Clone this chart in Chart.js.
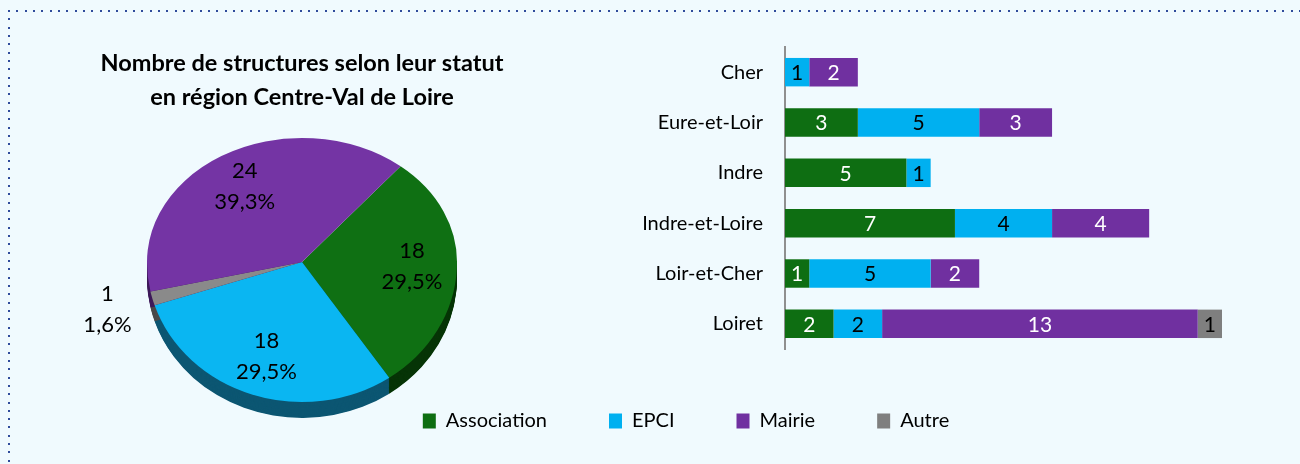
<!DOCTYPE html>
<html><head><meta charset="utf-8">
<script src="https://cdn.jsdelivr.net/npm/chart.js@4/dist/chart.umd.min.js"></script>
<style>
html,body{margin:0;padding:0;}
body{width:1300px;height:464px;background:#f0fafe;position:relative;overflow:hidden;font-family:Lato,sans-serif;}
#dotsTop{position:absolute;left:8px;top:10px;width:1292px;height:2px;background:repeating-linear-gradient(to right,#2f4b9b 0 2px,transparent 2px 8.33px);}
#dotsLeft{position:absolute;left:8px;top:10px;width:2px;height:454px;background:repeating-linear-gradient(to bottom,#2f4b9b 0 2px,transparent 2px 8.33px);}
#barWrap{position:absolute;left:0;top:0;width:1300px;height:464px;}
#pieWrap{position:absolute;left:0;top:0;width:604px;height:464px;}
canvas{display:block;}
</style></head>
<body>
<div id="dotsTop"></div><div id="dotsLeft"></div>
<div id="barWrap"><canvas id="bar" width="1300" height="464"></canvas></div>
<div id="pieWrap"><canvas id="pie" width="604" height="464"></canvas></div>
<script>
// ---- data ----
const departements = ['Cher','Eure-et-Loir','Indre','Indre-et-Loire','Loir-et-Cher','Loiret'];
const association = [0,3,5,7,1,2];
const epci        = [1,5,1,4,5,2];
const mairie      = [2,3,0,4,2,13];
const autre       = [0,0,0,0,0,1];
const pieLabels = ['Association','EPCI','Autre','Mairie'];
const pieValues = [18,18,1,24];
const pieTitle = ['Nombre de structures selon leur statut','en région Centre-Val de Loire'];

// ---- styles ----
const colors = {Association:'#0e6e12', EPCI:'#00b0f0', Mairie:'#7030a0', Autre:'#7f7f7f'};
const pieFace = {Association:'#0f7013', EPCI:'#0ab6f2', Mairie:'#7434a4', Autre:'#8a8a8a'};
const sideColors = {Association:'#063406', EPCI:'#0c5672', Mairie:'#3e1a5a', Autre:'#4a4a4a'};
const labelColors = {Association:'#ffffff', EPCI:'#000000', Mairie:'#ffffff', Autre:'#000000'};
const FONT_FAMILY = 'Lato, sans-serif';
const AXIS_FONT = 20;
const VALUE_FONT = 21;
const PIE_FONT = 22;
const KT = 124/155;     // vertical squash of far half of pie
const KB = 140/155;     // vertical squash of near half of pie
const DEPTH = 16;       // px thickness of the pie side

Chart.defaults.font.family = FONT_FAMILY;
Chart.defaults.color = '#000';
Chart.defaults.animation = false;

const barLabels = {
  id:'barLabels',
  afterDatasetsDraw(chart){
    const ctx = chart.ctx;
    ctx.save();
    ctx.font = VALUE_FONT + 'px ' + FONT_FAMILY;
    ctx.textAlign = 'center'; ctx.textBaseline = 'middle';
    chart.data.datasets.forEach((ds,i)=>{
      const meta = chart.getDatasetMeta(i);
      meta.data.forEach((bar,j)=>{
        const v = ds.data[j];
        if(!v) return;
        ctx.fillStyle = labelColors[ds.label];
        ctx.fillText(String(v), (bar.x + bar.base)/2, bar.y + 1);
      });
    });
    ctx.restore();
  }
};

new Chart(document.getElementById('bar'), {
  type:'bar',
  data:{
    labels: departements,
    datasets:[
      {label:'Association', data:association, backgroundColor:colors.Association},
      {label:'EPCI', data:epci, backgroundColor:colors.EPCI},
      {label:'Mairie', data:mairie, backgroundColor:colors.Mairie},
      {label:'Autre', data:autre, backgroundColor:colors.Autre}
    ]
  },
  options:{
    responsive:false,
    indexAxis:'y',
    layout:{padding:{left:150, right:78, top:47, bottom:23}},
    datasets:{bar:{categoryPercentage:1, barPercentage:0.565, borderWidth:0}},
    scales:{
      x:{stacked:true, min:0, max:18, display:false},
      y:{stacked:true,
         grid:{display:false, drawTicks:false},
         border:{display:true, color:'#8f8f8f', width:2},
         ticks:{font:{size:AXIS_FONT}, color:'#000', padding:22},
         afterFit(s){ s.width = 785 - 150; }}
    },
    plugins:{
      legend:{position:'bottom', labels:{boxWidth:13, boxHeight:15, padding:62, font:{size:AXIS_FONT}, color:'#000'}},
      tooltip:{enabled:false}
    }
  },
  plugins:[barLabels]
});

function fmtPct(v,total){ return (v/total*100).toFixed(1).replace('.',',') + '%'; }

function squash(ctx, cx, cy, k){
  ctx.translate(cx,cy); ctx.scale(1,k); ctx.translate(-cx,-cy);
}

const pie3d = {
  id:'pie3d',
  beforeDatasetsDraw(chart){
    const ctx = chart.ctx;
    const meta = chart.getDatasetMeta(0);
    const cx = meta.data[0].x, cy = meta.data[0].y;
    // side (thickness), near half only
    ctx.save();
    ctx.beginPath(); ctx.rect(0, cy, chart.width, chart.height - cy); ctx.clip();
    squash(ctx, cx, cy, KB);
    const d0 = DEPTH/KB;
    meta.data.forEach((arc,i)=>{
      ctx.fillStyle = sideColors[pieLabels[i]];
      for(let d=d0; d>0; d-=1){
        ctx.beginPath();
        ctx.moveTo(cx, cy+d);
        ctx.arc(cx, cy+d, arc.outerRadius, arc.startAngle, arc.endAngle);
        ctx.closePath();
        ctx.fill();
      }
    });
    ctx.restore();
    // far half of the face is drawn by the library under this transform
    ctx.save();
    ctx.beginPath(); ctx.rect(0, 0, chart.width, cy); ctx.clip();
    squash(ctx, cx, cy, KT);
  },
  afterDatasetsDraw(chart){
    const ctx = chart.ctx;
    ctx.restore();
    const meta = chart.getDatasetMeta(0);
    const cx = meta.data[0].x, cy = meta.data[0].y;
    // near half of the face
    ctx.save();
    ctx.beginPath(); ctx.rect(0, cy, chart.width, chart.height - cy); ctx.clip();
    squash(ctx, cx, cy, KB);
    meta.data.forEach(a=>a.draw(ctx));
    ctx.restore();
    // labels
    const values = chart.data.datasets[0].data;
    const total = values.reduce((a,b)=>a+b,0);
    ctx.save();
    ctx.font = PIE_FONT + 'px ' + FONT_FAMILY;
    ctx.fillStyle = '#000';
    ctx.textAlign = 'center'; ctx.textBaseline = 'middle';
    meta.data.forEach((arc,i)=>{
      const mid = (arc.startAngle + arc.endAngle)/2;
      const frac = values[i]/total;
      const f = frac < 0.05 ? 1.3 : 0.71;
      const s = Math.sin(mid);
      const k = s > 0 ? KB : KT;
      const x = arc.x + Math.cos(mid)*arc.outerRadius*f;
      const y = arc.y + s*arc.outerRadius*f*k;
      ctx.fillText(String(values[i]), x, y - 15.5);
      ctx.fillText(fmtPct(values[i],total), x, y + 15.5);
    });
    ctx.restore();
  }
};

new Chart(document.getElementById('pie'), {
  type:'pie',
  data:{
    labels: pieLabels,
    datasets:[{data:pieValues, backgroundColor:pieLabels.map(l=>pieFace[l]), borderWidth:0}]
  },
  options:{
    responsive:false,
    rotation:39.5,
    layout:{padding:{top:0, bottom:47, left:0, right:0}},
    plugins:{
      legend:{display:false},
      tooltip:{enabled:false},
      title:{display:true, text:pieTitle, color:'#000',
        font:{size:23.5, weight:'bold', lineHeight:34/23.5},
        padding:{top:46, bottom:-7}}
    }
  },
  plugins:[pie3d]
});
</script>
</body></html>
